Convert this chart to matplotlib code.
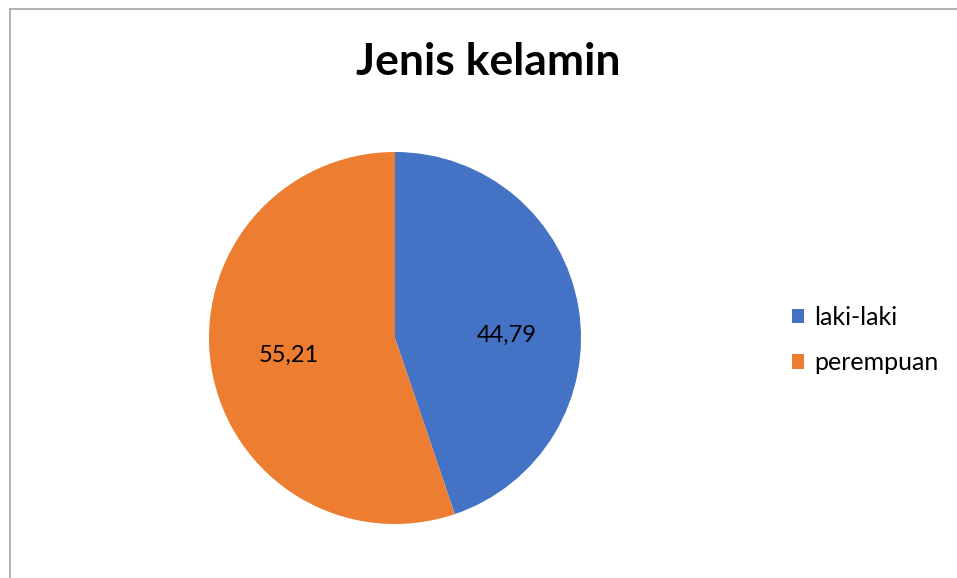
import matplotlib.pyplot as plt
from matplotlib.lines import Line2D
from matplotlib.patches import Patch

labels = ['laki-laki', 'perempuan']
values = [44.79, 55.21]
colors = ['#4472C4', '#ED7D31']
title = 'Jenis kelamin'

plt.rcParams['font.family'] = ['Lato', 'DejaVu Sans']

W, H = 957, 578
fig = plt.figure(figsize=(W / 100, H / 100), dpi=100)

# pie box in pixels: centre (395, 338), radius 186
cx, cy, r = 395, 338, 186
ax = fig.add_axes([(cx - r) / W, (H - cy - r) / H, 2 * r / W, 2 * r / H])


def fmt(p):
    return '{:.2f}'.format(p).replace('.', ',')


wedges, texts, autotexts = ax.pie(values, colors=colors, startangle=90,
                                  counterclock=False, autopct=fmt,
                                  pctdistance=0.58,
                                  textprops={'fontsize': 17, 'color': 'black'})
# excel puts the blue label a bit lower and further out
x0, y0 = autotexts[0].get_position()
autotexts[0].set_position((x0 + 0.03, y0 - 0.08))
ax.set_xlim(-1, 1)
ax.set_ylim(-1, 1)

fig.text(488 / W, 1 - 62 / H, title, ha='center', va='center',
         fontsize=32, fontweight='bold')

handles = [Patch(facecolor=c, edgecolor='none') for c in colors]
fig.legend(handles, labels, loc='center left',
           bbox_to_anchor=(769 / W, 1 - 340 / H), frameon=False,
           fontsize=18, handlelength=0.5, handleheight=0.5,
           handletextpad=0.4, labelspacing=0.9)

# chart border (cut off at the right and bottom)
fig.add_artist(Line2D([9.5 / W, 9.5 / W], [0, 1 - 9 / H],
                      transform=fig.transFigure, color='#A6A6A6', lw=1.2))
fig.add_artist(Line2D([9.5 / W, 1], [1 - 9 / H, 1 - 9 / H],
                      transform=fig.transFigure, color='#A6A6A6', lw=1.2))

fig.savefig('out.png', dpi=100)
